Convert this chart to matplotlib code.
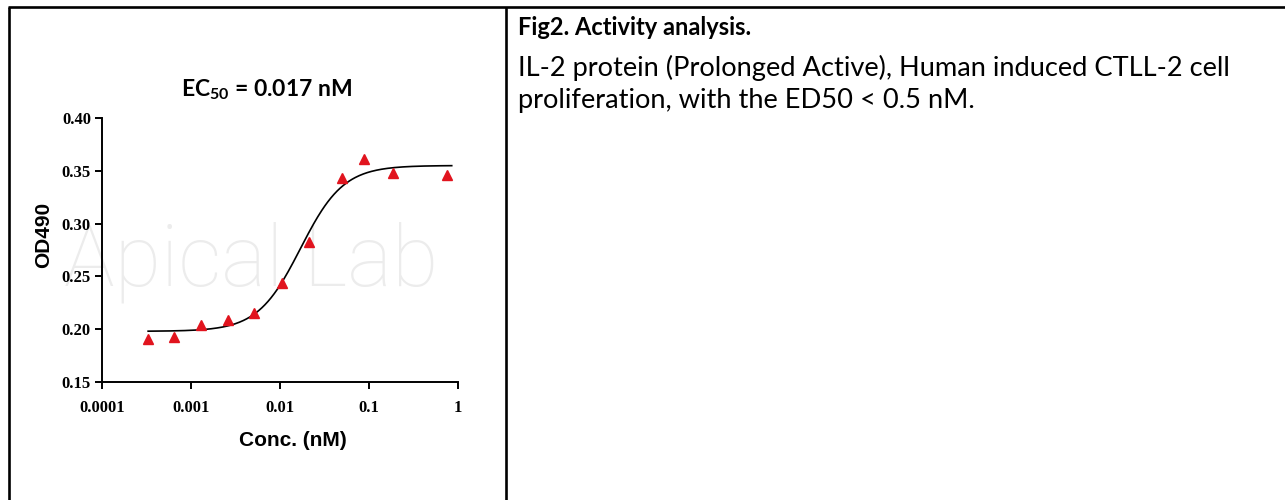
import numpy as np
import matplotlib
matplotlib.use("Agg")
import matplotlib.pyplot as plt
from matplotlib.lines import Line2D

# measured points (conc in nM, OD490)
conc = [0.00033, 0.00065, 0.0013, 0.0026, 0.0051, 0.0104, 0.021, 0.05, 0.089, 0.185, 0.76]
od490 = [0.191, 0.193, 0.204, 0.209, 0.215, 0.244, 0.283, 0.343, 0.361, 0.348, 0.346]

# 4PL fit shown on the chart
fit_bottom = 0.198
fit_top = 0.355
fit_ec50 = 0.017
fit_hill = 1.8
fit_range = [0.00033, 0.85]

x_ticks = [0.0001, 0.001, 0.01, 0.1, 1]
x_tick_labels = ["0.0001", "0.001", "0.01", "0.1", "1"]
y_ticks = [0.15, 0.20, 0.25, 0.30, 0.35, 0.40]
y_tick_labels = ["0.15", "0.20", "0.25", "0.30", "0.35", "0.40"]

caption_title = "Fig2. Activity analysis."
caption_lines = ["IL-2 protein (Prolonged Active), Human induced CTLL-2 cell",
                 "proliferation, with the ED50 < 0.5 nM."]

W, H = 1285, 500
fig = plt.figure(figsize=(W / 100, H / 100), dpi=100)
fig.patch.set_facecolor("white")


def fx(px):
    return px / W


def fy(py):
    return 1 - py / H


# table frame
for xs, ys in [([8, W], [7, 7]), ([8.5, 8.5], [7, H]), ([505.5, 505.5], [7, H])]:
    fig.add_artist(Line2D([fx(v) for v in xs], [fy(v) for v in ys], color="black", lw=1.9,
                          solid_capstyle="butt"))

# watermark, behind the axes
fig.text(fx(251), fy(262), "Apical Lab", fontsize=61, color="#ececec", family="Roboto",
         fontweight="light", ha="center", va="center", zorder=0)

ax = fig.add_axes([fx(102), fy(382), (458 - 102) / W, (382 - 118) / H])
ax.set_zorder(2)
ax.patch.set_alpha(0)

xs = np.logspace(np.log10(fit_range[0]), np.log10(fit_range[1]), 300)
ys = fit_bottom + (fit_top - fit_bottom) / (1 + (fit_ec50 / xs) ** fit_hill)
ax.plot(xs, ys, color="black", lw=1.2, zorder=2)
ax.plot(conc, od490, linestyle="none", marker="^", markersize=7.5, color="#e1141e", zorder=3)

ax.set_xscale("log")
ax.set_xlim(0.0001, 1)
ax.set_ylim(0.15, 0.40)
ax.set_xticks(x_ticks)
ax.set_xticklabels(x_tick_labels)
ax.minorticks_off()
ax.set_yticks(y_ticks)
ax.set_yticklabels(y_tick_labels)

for s in ["top", "right"]:
    ax.spines[s].set_visible(False)
for s in ["left", "bottom"]:
    ax.spines[s].set_linewidth(1.4)

ax.tick_params(axis="both", direction="out", length=5, width=1.4)
ax.tick_params(axis="x", pad=8)
ax.tick_params(axis="y", pad=3)
for lab in ax.get_xticklabels() + ax.get_yticklabels():
    lab.set_family("Liberation Serif")
    lab.set_fontweight("bold")
    lab.set_fontsize(12)

ax.set_xlabel("Conc. (nM)", family="Liberation Sans", fontweight="bold", fontsize=15, labelpad=11)
ax.set_ylabel("OD490", family="Liberation Sans", fontweight="bold", fontsize=15, labelpad=6)
ax.xaxis.label.set_x((293 - 102) / 356)
ax.yaxis.label.set_y((382 - 235) / 264)

fig.text(fx(266), fy(90), r"EC$_{\mathregular{50}}$ = 0.017 nM", fontsize=16.5, fontweight="bold",
         family="Lato", ha="center", va="center")

# caption on the right cell
fig.text(fx(518), fy(35), caption_title, fontsize=17, fontweight="bold", family="Lato",
         ha="left", va="baseline")
fig.text(fx(518), fy(76), caption_lines[0], fontsize=19.6, family="Lato", ha="left", va="baseline")
fig.text(fx(518), fy(108), caption_lines[1], fontsize=19.6, family="Lato", ha="left", va="baseline")

fig.savefig("out.png", dpi=100)
